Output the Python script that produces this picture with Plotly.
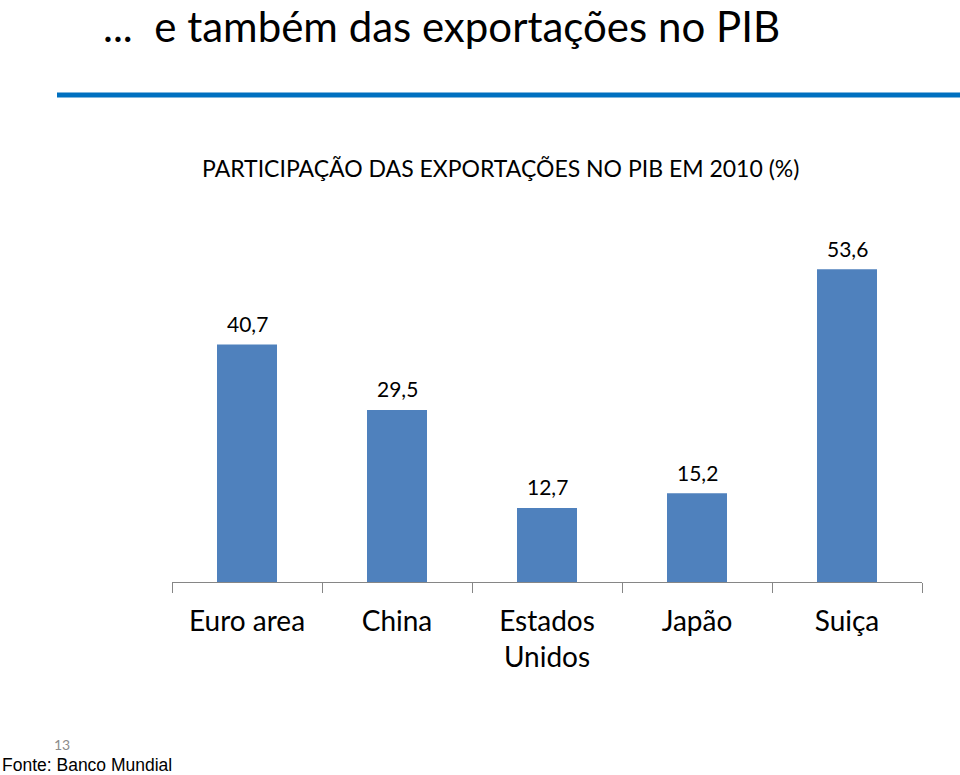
import plotly.graph_objects as go

categories = ["Euro area", "China", "Estados<br>Unidos", "Japão", "Suiça"]
values = [40.7, 29.5, 12.7, 15.2, 53.6]
labels = ["40,7", "29,5", "12,7", "15,2", "53,6"]

FONT = "Lato, Open Sans, sans-serif"

fig = go.Figure()
fig.add_trace(go.Bar(
    x=categories, y=values,
    marker=dict(color="#4F81BD", line=dict(width=0)),
    hoverinfo="skip",
))

for c, v, t in zip(categories, values, labels):
    fig.add_annotation(x=c, y=v, text=t, showarrow=False, yanchor="middle", yshift=21,
                       font=dict(family=FONT, size=21, color="#000000"))

X0, X1, Y0, Y1 = 172, 922, 232, 582

fig.update_layout(
    width=960, height=775,
    margin=dict(l=X0, r=960 - X1, t=Y0, b=775 - Y1),
    paper_bgcolor="white", plot_bgcolor="white",
    bargap=0.6,
    showlegend=False,
    xaxis=dict(
        showline=True, linecolor="#868686", linewidth=1,
        ticks="outside", tickson="boundaries", ticklen=10, tickcolor="#868686",
        tickfont=dict(family=FONT, size=28, color="#000000"),
        ticklabelstandoff=14,
        showgrid=False,
    ),
    yaxis=dict(range=[0, 60], visible=False, showgrid=False),
)

def pann(text, px, py, size, color="#000000", family=FONT, xanchor="left"):
    fig.add_annotation(text=text, x=(px - X0) / (X1 - X0), y=(Y1 - py) / (Y1 - Y0),
                       xref="paper", yref="paper", xanchor=xanchor, yanchor="middle",
                       showarrow=False, font=dict(family=family, size=size, color=color))

pann("...  e também das exportações no PIB", 101, 26, 42)
pann("PARTICIPAÇÃO DAS EXPORTAÇÕES NO PIB EM 2010 (%)", 500, 168, 23, xanchor="center")
pann("13", 62, 744, 14, color="#8C8C8C", xanchor="center")
pann("Fonte: Banco Mundial", 0, 765, 17.5, family="Liberation Sans, Arial, sans-serif")

fig.add_shape(type="line", xref="paper", yref="paper",
              x0=(57 - X0) / (X1 - X0), x1=(960 - X0) / (X1 - X0),
              y0=(Y1 - 95) / (Y1 - Y0), y1=(Y1 - 95) / (Y1 - Y0),
              line=dict(color="#0070C0", width=5))

fig.write_html("out.html", config={"displayModeBar": False},
               post_script="document.body.style.margin='0';document.body.style.overflow='hidden';")
